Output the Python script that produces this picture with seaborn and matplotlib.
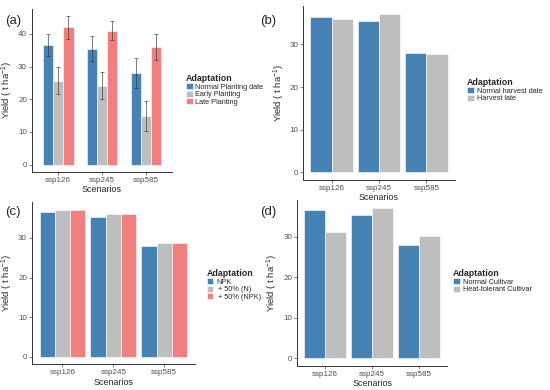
"""
Yield under climate scenarios with four adaptation options (panels a-d).
"""
import pandas as pd
import matplotlib
matplotlib.use("Agg")
import matplotlib.pyplot as plt
import seaborn as sns

sns.set_style("white")
plt.rcParams['font.family'] = ['Liberation Sans', 'DejaVu Sans']
plt.rcParams['mathtext.default'] = 'regular'

# data
scenarios = ['ssp126', 'ssp245', 'ssp585']

# (a) planting date, with error bars
a_levels = ['Normal Planting date', 'Early Planting', 'Late Planting']
a_normal = [36.6, 35.5, 28.0]
a_early = [25.7, 24.2, 15.0]
a_late = [42.0, 41.0, 36.0]
a_normal_err = [3.4, 3.8, 4.7]
a_early_err = [4.2, 4.0, 4.6]
a_late_err = [3.5, 3.0, 4.0]

# (b) harvest date
b_levels = ['Normal harvest date', 'Harvest late']
b_normal = [36.5, 35.4, 28.0]
b_late = [36.0, 37.1, 27.8]

# (c) fertiliser
c_levels = ['NPK', ' + 50% (N)', ' + 50% (NPK)']
c_npk = [36.5, 35.4, 28.0]
c_n50 = [37.1, 36.1, 28.8]
c_npk50 = [37.1, 36.1, 28.8]

# (d) cultivar
d_levels = ['Normal Cultivar', 'Heat-tolerant Cultivar']
d_normal = [36.5, 35.4, 28.0]
d_heat = [31.1, 37.1, 30.1]

BLUE = '#4682B4'
GREY = '#BEBEBE'
PINK = '#F08080'
TICK_GREY = '#4D4D4D'


def long_df(levels, series):
    rows = []
    for lev, vals in zip(levels, series):
        for sc, v in zip(scenarios, vals):
            rows.append({'Scenarios': sc, 'Adaptation': lev, 'Yield': v})
    return pd.DataFrame(rows)


def draw_panel(fig, rect, df, levels, colors, width, ymax, yticks,
               tag, tag_xy, leg_xy, errs=None):
    ax = fig.add_axes(rect)
    sns.barplot(data=df, x='Scenarios', y='Yield', hue='Adaptation',
                order=scenarios, hue_order=levels, palette=colors,
                saturation=1, width=width, errorbar=None,
                edgecolor='white', linewidth=0.4, ax=ax)

    # error bars placed on the bars seaborn drew
    if errs is not None:
        for cont, err in zip(ax.containers, errs):
            xs = [b.get_x() + b.get_width() / 2 for b in cont]
            ys = [b.get_height() for b in cont]
            ax.errorbar(xs, ys, yerr=err, fmt='none', ecolor='#333333',
                        elinewidth=0.6, capsize=1.3, capthick=0.6, alpha=0.75)

    ax.set_xlim(-0.6, 2.6)
    ax.set_ylim(-ymax * 0.05, ymax * 1.05)
    ax.set_yticks(yticks)
    ax.set_xlabel('Scenarios', fontsize=6.4, labelpad=1)
    ax.set_ylabel('Yield ( t ha$^{-1}$)', fontsize=6.8, labelpad=2)
    ax.tick_params(axis='both', labelsize=5.8, colors=TICK_GREY,
                   length=2, width=0.5, pad=1.5, labelcolor=TICK_GREY)
    ax.tick_params(axis='both', bottom=True, left=True)
    for side in ['top', 'right']:
        ax.spines[side].set_visible(False)
    for side in ['left', 'bottom']:
        ax.spines[side].set_color('#333333')
        ax.spines[side].set_linewidth(0.7)

    handles, labels = ax.get_legend_handles_labels()
    ax.get_legend().remove()
    fig.legend(handles, labels, loc='upper left', bbox_to_anchor=leg_xy,
               bbox_transform=fig.transFigure, frameon=False,
               title='Adaptation', alignment='left', fontsize=5.3,
               title_fontproperties={'weight': 'bold', 'size': 6.4},
               handlelength=0.9, handleheight=0.9, labelspacing=0.0,
               handletextpad=0.4, borderpad=0, borderaxespad=0)
    fig.text(tag_xy[0], tag_xy[1], tag, fontsize=9.5, ha='center', va='center')
    return ax


def main():
    fig = plt.figure(figsize=(5.5, 3.9), dpi=100)

    df_a = long_df(a_levels, [a_normal, a_early, a_late])
    ymax_a = max(v + e for v, e in zip(a_late, a_late_err))
    draw_panel(fig, [0.058, 0.559, 0.255, 0.419], df_a, a_levels,
               [BLUE, GREY, PINK], 0.7, ymax_a, [0, 10, 20, 30, 40],
               '(a)', (0.024, 0.946), (0.338, 0.81),
               errs=[a_normal_err, a_early_err, a_late_err])

    df_b = long_df(b_levels, [b_normal, b_late])
    draw_panel(fig, [0.551, 0.538, 0.276, 0.446], df_b, b_levels,
               [BLUE, GREY], 0.9, 37.1, [0, 10, 20, 30],
               '(b)', (0.487, 0.946), (0.849, 0.80))

    df_c = long_df(c_levels, [c_npk, c_n50, c_npk50])
    draw_panel(fig, [0.058, 0.066, 0.296, 0.415], df_c, c_levels,
               [BLUE, GREY, PINK], 0.9, 37.1, [0, 10, 20, 30],
               '(c)', (0.024, 0.456), (0.376, 0.31))

    df_d = long_df(d_levels, [d_normal, d_heat])
    draw_panel(fig, [0.540, 0.062, 0.273, 0.424], df_d, d_levels,
               [BLUE, GREY], 0.9, 37.1, [0, 10, 20, 30],
               '(d)', (0.487, 0.456), (0.824, 0.31))

    fig.savefig('out.png', dpi=100)
    plt.close(fig)


if __name__ == "__main__":
    main()
